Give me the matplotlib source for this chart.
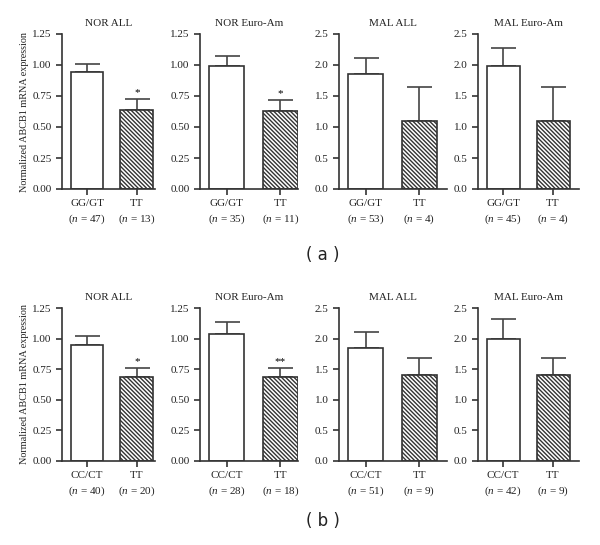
import matplotlib
matplotlib.use("Agg")
import matplotlib.pyplot as plt

plt.rcParams['font.family'] = ['Liberation Serif', 'DejaVu Serif']
plt.rcParams['mathtext.fontset'] = 'custom'
plt.rcParams['mathtext.rm'] = 'Liberation Serif'
plt.rcParams['mathtext.it'] = 'Liberation Serif:italic'
plt.rcParams['hatch.linewidth'] = 1.0
plt.rcParams['hatch.color'] = '#1a1a1a'

# data, panel (a) then panel (b)
titles = ["NOR ALL", "NOR Euro-Am", "MAL ALL", "MAL Euro-Am"]
groups_a = ["GG/GT", "TT"]
groups_b = ["CC/CT", "TT"]
n_a = [[47, 13], [35, 11], [53, 4], [45, 4]]
n_b = [[40, 20], [28, 18], [51, 9], [42, 9]]
mean_a = [[0.94, 0.64], [0.99, 0.63], [1.86, 1.10], [1.99, 1.10]]
err_a = [[0.07, 0.085], [0.08, 0.09], [0.25, 0.55], [0.29, 0.55]]
mean_b = [[0.95, 0.69], [1.04, 0.69], [1.84, 1.40], [2.00, 1.40]]
err_b = [[0.07, 0.07], [0.095, 0.07], [0.27, 0.28], [0.32, 0.29]]
stars_a = ["*", "*", "", ""]
stars_b = ["*", "**", "", ""]

ymax = [1.25, 1.25, 2.5, 2.5]
yticks = [[0, 0.25, 0.5, 0.75, 1.0, 1.25],
          [0, 0.25, 0.5, 0.75, 1.0, 1.25],
          [0, 0.5, 1.0, 1.5, 2.0, 2.5],
          [0, 0.5, 1.0, 1.5, 2.0, 2.5]]
yfmt = ["{:.2f}", "{:.2f}", "{:.1f}", "{:.1f}"]

W, H = 600, 545
fig = plt.figure(figsize=(6.0, 5.45), dpi=100)

# pixel layout: (left, right) of each axes, (top, bottom) of each row
cols = [(62, 155), (200, 298), (339, 447), (478, 579)]
xright = [1.36, 1.33, 1.52, 1.52]
rows = [(34, 189), (308, 461)]

edge = '#333333'


def draw_row(top, bottom, groups, ns, means, errs, stars):
    axes = []
    for i in range(4):
        l, r = cols[i]
        ax = fig.add_axes([l / W, 1 - bottom / H, (r - l) / W, (bottom - top) / H])
        x = [0, 1]
        ax.bar(x[0], means[i][0], width=0.66, color='white', edgecolor=edge, linewidth=1.2, zorder=2)
        ax.bar(x[1], means[i][1], width=0.66, color='white', edgecolor=edge, linewidth=1.2,
               hatch='\\' * 8, zorder=2)
        for j in range(2):
            ax.errorbar(x[j], means[i][j], yerr=[[0], [errs[i][j]]], fmt='none',
                        ecolor='#444444', elinewidth=1.2, capsize=9, capthick=1.2, zorder=1)
        if stars[i]:
            ax.text(1, means[i][1] + errs[i][1] + ymax[i] * 0.01, stars[i],
                    ha='center', va='bottom', fontsize=8)
        ax.set_xlim(-0.5, xright[i])
        ax.set_ylim(0, ymax[i])
        ax.set_yticks(yticks[i])
        ax.set_yticklabels([yfmt[i].format(v) for v in yticks[i]])
        ax.set_xticks(x)
        ax.set_xticklabels([groups[j] + "\n($\\mathit{n}$ = %d)" % ns[i][j] for j in range(2)],
                           linespacing=1.5)
        for s in ['top', 'right']:
            ax.spines[s].set_visible(False)
        for s in ['left', 'bottom']:
            ax.spines[s].set_color(edge)
            ax.spines[s].set_linewidth(1.2)
        ax.tick_params(axis='both', colors=edge, labelcolor='#222222', labelsize=8,
                       length=4, width=1.2)
        ax.tick_params(axis='x', pad=3)
        ax.set_title(titles[i], fontsize=8, pad=6, color='#222222')
        axes.append(ax)
    axes[0].set_ylabel("Normalized ABCB1 mRNA expression", fontsize=7.3, color='#222222',
                       labelpad=2)
    return axes


draw_row(rows[0][0], rows[0][1], groups_a, n_a, mean_a, err_a, stars_a)
draw_row(rows[1][0], rows[1][1], groups_b, n_b, mean_b, err_b, stars_b)

fig.text(323 / W, 1 - 255 / H, "( a )", family='DejaVu Sans', fontsize=12,
         ha='center', va='center', color='#222222')
fig.text(323 / W, 1 - 521 / H, "( b )", family='DejaVu Sans', fontsize=12,
         ha='center', va='center', color='#222222')

fig.savefig("out.png", dpi=100, facecolor='white')
